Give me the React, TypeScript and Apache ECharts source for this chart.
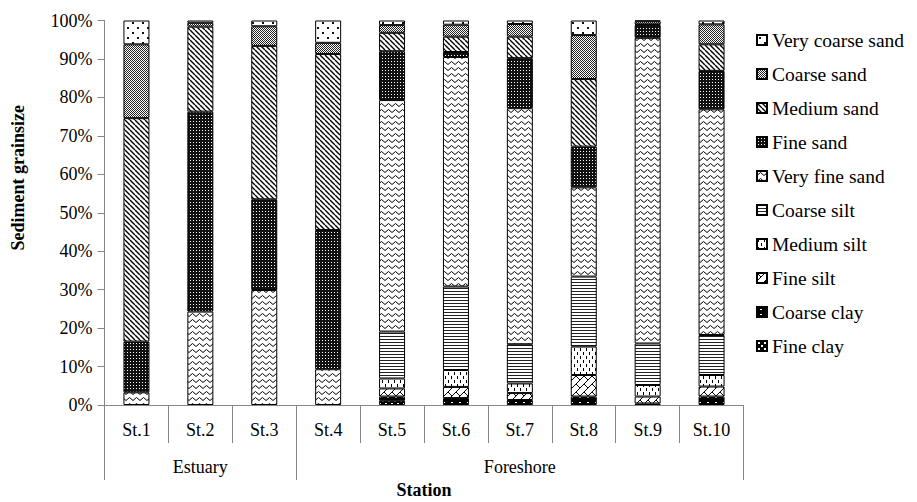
import React, { useEffect, useRef } from 'react';
import * as echarts from 'echarts';

const stations = ['St.1', 'St.2', 'St.3', 'St.4', 'St.5', 'St.6', 'St.7', 'St.8', 'St.9', 'St.10'];
const groupLabels = ['', 'Estuary', '', '', '', '', 'Foreshore', '', '', ''];
const groupStarts = [0, 3];

const seriesNames = [
  'Fine clay', 'Coarse clay', 'Fine silt', 'Medium silt', 'Coarse silt',
  'Very fine sand', 'Fine sand', 'Medium sand', 'Coarse sand', 'Very coarse sand',
];

const fineClay = [0, 0, 0, 0, 1.1, 0, 0, 0, 0, 0];
const coarseClay = [0, 0, 0, 0, 1.1, 1.8, 1.3, 2.2, 0.4, 2.2];
const fineSilt = [0, 0, 0, 0, 2.1, 2.9, 1.8, 5.6, 1.8, 2.6];
const mediumSilt = [0, 0, 0, 0, 2.6, 4.4, 2.5, 7.4, 3.0, 3.0];
const coarseSilt = [0, 0, 0, 0, 12.2, 21.7, 10.2, 18.2, 10.8, 10.4];
const veryFineSand = [3.3, 24.3, 29.9, 9.3, 60.2, 59.7, 61.4, 23.2, 79.5, 58.7];
const fineSand = [13.2, 52.0, 23.6, 36.2, 12.7, 1.3, 13.0, 10.6, 3.3, 10.0];
const mediumSand = [58.1, 22.1, 39.9, 45.8, 4.8, 4.0, 5.6, 17.6, 0.2, 6.9];
const coarseSand = [19.2, 1.0, 5.1, 2.9, 2.0, 3.1, 3.3, 11.4, 0.8, 5.2];
const veryCoarseSand = [6.2, 0.6, 1.5, 5.8, 1.2, 1.1, 0.9, 3.8, 0.2, 1.0];

const seriesValues = [
  fineClay, coarseClay, fineSilt, mediumSilt, coarseSilt,
  veryFineSand, fineSand, mediumSand, coarseSand, veryCoarseSand,
];

const FONT = '"Liberation Serif", "Times New Roman", serif';

type Draw = (ctx: CanvasRenderingContext2D, w: number, h: number) => void;

function makePattern(w: number, h: number, draw: Draw, bg = '#ffffff') {
  const c = document.createElement('canvas');
  c.width = w;
  c.height = h;
  const ctx = c.getContext('2d')!;
  ctx.fillStyle = bg;
  ctx.fillRect(0, 0, w, h);
  draw(ctx, w, h);
  return { image: c, repeat: 'repeat', imageWidth: w, imageHeight: h } as any;
}

function buildPatterns() {
  const fineClayP = makePattern(6, 6, (ctx) => {
    ctx.fillStyle = '#ffffff';
    ctx.fillRect(1, 1, 2, 2);
    ctx.fillRect(4, 4, 2, 2);
  }, '#000000');
  const coarseClayP = makePattern(8, 5, (ctx) => {
    ctx.fillStyle = '#ffffff';
    ctx.fillRect(3, 2, 2, 1);
  }, '#000000');
  const fineSiltP = makePattern(8, 8, (ctx) => {
    ctx.strokeStyle = '#000';
    ctx.lineWidth = 1;
    ctx.beginPath();
    for (const k of [-8, 0, 8]) {
      ctx.moveTo(k, 8);
      ctx.lineTo(k + 8, 0);
    }
    ctx.moveTo(0, 0);
    ctx.lineTo(4, 4);
    ctx.stroke();
  });
  const mediumSiltP = makePattern(6, 8, (ctx) => {
    ctx.fillStyle = '#000';
    ctx.fillRect(1, 0, 1, 3);
    ctx.fillRect(4, 4, 1, 3);
  });
  const coarseSiltP = makePattern(4, 3, (ctx) => {
    ctx.fillStyle = '#222';
    ctx.fillRect(0, 0, 4, 1);
  });
  const veryFineSandP = makePattern(7, 6, (ctx) => {
    ctx.strokeStyle = '#000';
    ctx.lineWidth = 1;
    ctx.beginPath();
    ctx.moveTo(0, 4.5);
    ctx.lineTo(3.5, 1.5);
    ctx.lineTo(7, 4.5);
    ctx.stroke();
  });
  const fineSandP = makePattern(3, 3, (ctx) => {
    ctx.fillStyle = '#ffffff';
    ctx.fillRect(1, 1, 1, 1);
  }, '#111111');
  const mediumSandP = makePattern(5, 5, (ctx) => {
    ctx.strokeStyle = '#000';
    ctx.lineWidth = 1.4;
    ctx.beginPath();
    for (const k of [-5, 0, 5]) {
      ctx.moveTo(k, 0);
      ctx.lineTo(k + 5, 5);
    }
    ctx.stroke();
  });
  const coarseSandP = makePattern(2, 2, (ctx) => {
    ctx.fillStyle = '#222';
    ctx.fillRect(0, 0, 1, 1);
    ctx.fillRect(1, 1, 1, 1);
  });
  const veryCoarseSandP = makePattern(10, 10, (ctx) => {
    ctx.fillStyle = '#111';
    ctx.fillRect(2, 2, 2, 2);
    ctx.fillRect(7, 7, 2, 2);
  });
  return [
    fineClayP, coarseClayP, fineSiltP, mediumSiltP, coarseSiltP,
    veryFineSandP, fineSandP, mediumSandP, coarseSandP, veryCoarseSandP,
  ];
}

export default function App() {
  const ref = useRef<HTMLDivElement>(null);

  useEffect(() => {
    if (!ref.current) return;
    const chart = echarts.init(ref.current, undefined, { renderer: 'svg' });
    const patterns = buildPatterns();
    const axisGrey = '#868686';

    const series = seriesNames.map((name, i) => ({
      name,
      type: 'bar',
      stack: 'total',
      barWidth: 26,
      xAxisIndex: 0,
      itemStyle: { color: patterns[i], borderColor: '#000', borderWidth: 1 },
      emphasis: { disabled: true },
      data: seriesValues[i].map((v) => (v === 0 ? null : v)),
    }));

    chart.setOption({
      animation: false,
      textStyle: { fontFamily: FONT },
      grid: {
        left: 104.5,
        right: 173.5,
        top: 20.5,
        bottom: 97,
        containLabel: false,
        outerBoundsMode: 'none',
      },
      legend: {
        orient: 'vertical',
        left: 751,
        top: 25,
        icon: 'rect',
        itemWidth: 10,
        itemHeight: 10,
        itemGap: 14,
        textStyle: { fontFamily: FONT, fontSize: 19.5, color: '#000' },
        data: [...seriesNames].reverse(),
      },
      xAxis: [
        {
          type: 'category',
          data: stations,
          position: 'bottom',
          axisLine: { lineStyle: { color: axisGrey } },
          axisTick: { show: true, length: 38, lineStyle: { color: axisGrey } },
          axisLabel: { fontFamily: FONT, fontSize: 18, color: '#000', margin: 16, interval: 0 },
        },
        {
          type: 'category',
          data: stations,
          position: 'bottom',
          axisLine: { show: false },
          axisTick: {
            show: true,
            length: 75,
            interval: (index: number) => groupStarts.includes(index),
            lineStyle: { color: axisGrey },
          },
          axisLabel: {
            interval: 0,
            fontFamily: FONT,
            fontSize: 18,
            color: '#000',
            margin: 53,
            formatter: (_v: string, index: number) => groupLabels[index],
          },
          name: 'Station',
          nameLocation: 'middle',
          nameGap: 76,
          nameTextStyle: { fontFamily: FONT, fontSize: 18, fontWeight: 'bold', color: '#000' },
        },
      ],
      yAxis: {
        type: 'value',
        min: 0,
        max: 100,
        interval: 10,
        axisLine: { show: true, lineStyle: { color: axisGrey } },
        axisTick: { show: true, length: 7, lineStyle: { color: axisGrey } },
        splitLine: { show: false },
        axisLabel: { fontFamily: FONT, fontSize: 18, color: '#000', margin: 12, formatter: '{value}%' },
        name: 'Sediment grainsize',
        nameLocation: 'middle',
        nameGap: 78,
        nameTextStyle: {
          fontFamily: FONT,
          fontSize: 18,
          fontWeight: 'bold',
          color: '#000',
          padding: [0, 0, 0, 70],
        },
      },
      series,
    });

    return () => {
      chart.dispose();
    };
  }, []);

  return (
    <div
      ref={ref}
      style={{ position: 'fixed', left: 0, top: 0, width: 917, height: 502, background: '#fff' }}
    />
  );
}
